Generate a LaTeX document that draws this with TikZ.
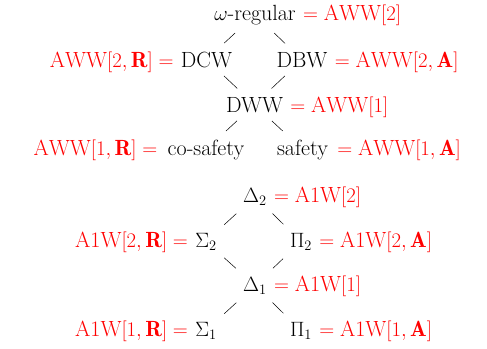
\documentclass[tikz,border=0pt]{standalone}
\usepackage{fontspec}
\begin{document}
\begin{tikzpicture}[x=1pt,y=-1pt,
  every node/.style={font=\fontsize{22}{26}\selectfont},
  blk/.style={inner xsep=7pt, inner ysep=8pt, anchor=base},
  rd/.style={text=red, inner sep=0pt},
  ln/.style={line width=0.5pt, shorten <=0.5pt, shorten >=0.5pt}]
\useasboundingbox (0,0) rectangle (487,348);
% upper lattice
\node[blk] (omega) at (255,20) {$\omega$-regular};
\node[blk] (dcw) at (206.5,67) {DCW};
\node[blk] (dbw) at (302,67) {DBW};
\node[blk] (dww) at (254.5,112) {DWW};
\node[blk] (cos) at (206,155) {co-safety};
\node[blk] (saf) at (302.5,155) {safety};
\node[rd, anchor=base west] (romega) at (omega.base east) {$=\mathrm{AWW}[2]$};
\node[rd, anchor=base east] (ldcw) at (dcw.base west) {$\mathrm{AWW}[2,\mathbf{R}] =$};
\node[rd, anchor=base west] (rdbw) at (dbw.base east) {$=\mathrm{AWW}[2,\mathbf{A}]$};
\node[rd, anchor=base west] (rdww) at (dww.base east) {$=\mathrm{AWW}[1]$};
\node[rd, anchor=base east] (lcos) at ([xshift=-3pt]cos.base west) {$\mathrm{AWW}[1,\mathbf{R}] =$};
\node[rd, anchor=base west] (rsaf) at ([xshift=2pt]saf.base east) {$=\mathrm{AWW}[1,\mathbf{A}]$};
\draw[ln] (omega) -- (dcw);
\draw[ln] (omega) -- (dbw);
\draw[ln] (dcw) -- (dww);
\draw[ln] (dbw) -- (dww);
\draw[ln] (dww) -- (cos);
\draw[ln] (dww) -- (saf);
% lower lattice
\node[blk] (d2) at (255,202) {$\Delta_2$};
\node[blk] (s2) at (206,247) {$\Sigma_2$};
\node[blk] (p2) at (301,247) {$\Pi_2$};
\node[blk] (d1) at (255,291) {$\Delta_1$};
\node[blk] (s1) at (206,336) {$\Sigma_1$};
\node[blk] (p1) at (301,336) {$\Pi_1$};
\node[rd, anchor=base west] (rd2) at (d2.base east) {$=\mathrm{A1W}[2]$};
\node[rd, anchor=base east] (ls2) at (s2.base west) {$\mathrm{A1W}[2,\mathbf{R}] =$};
\node[rd, anchor=base west] (rp2) at (p2.base east) {$=\mathrm{A1W}[2,\mathbf{A}]$};
\node[rd, anchor=base west] (rd1) at (d1.base east) {$=\mathrm{A1W}[1]$};
\node[rd, anchor=base east] (ls1) at (s1.base west) {$\mathrm{A1W}[1,\mathbf{R}] =$};
\node[rd, anchor=base west] (rp1) at (p1.base east) {$=\mathrm{A1W}[1,\mathbf{A}]$};
\draw[ln] (d2) -- (s2);
\draw[ln] (d2) -- (p2);
\draw[ln] (s2) -- (d1);
\draw[ln] (p2) -- (d1);
\draw[ln] (d1) -- (s1);
\draw[ln] (d1) -- (p1);
\end{tikzpicture}
\end{document}
